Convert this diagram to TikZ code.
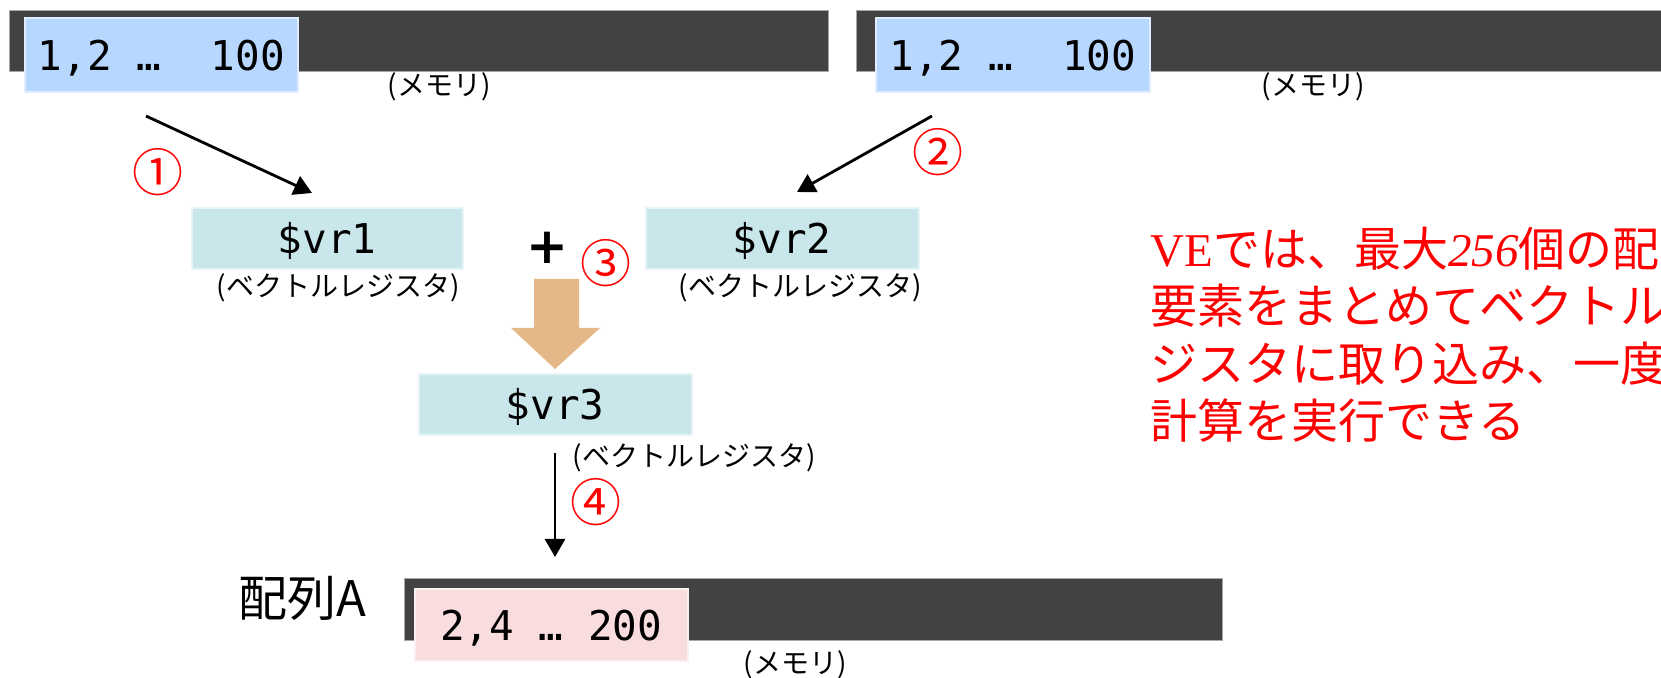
\documentclass[tikz,border=0pt]{standalone}
\usepackage{fontspec}
\setmainfont{Noto Sans CJK JP}
\setmonofont{DejaVu Sans Mono}
\newfontfamily\timesfont{Liberation Serif}
\newfontfamily\plusfont{DejaVu Sans}
\usepackage{tikz}
\usetikzlibrary{positioning, arrows.meta}

\definecolor{memgray}{HTML}{424242}
\definecolor{inblue}{HTML}{B8D7FF}
\definecolor{regteal}{HTML}{C9E6EA}
\definecolor{outpink}{HTML}{F9DCDD}
\definecolor{addtan}{HTML}{E4B888}

\tikzset{
  membar/.style={fill=memgray, draw=gray!70, line width=0.5pt, anchor=north west,
    inner sep=0pt, minimum height=30.5pt},
  databox/.style={fill=#1, draw=white!55!#1, line width=0.8pt, anchor=north west,
    inner sep=0pt, text depth=0pt, font=\ttfamily\fontsize{20.5}{24}\selectfont},
  regbox/.style={databox=regteal, minimum height=30.5pt},
  note/.style={inner sep=0pt, font=\fontsize{14}{16}\selectfont},
  numlabel/.style={inner sep=0pt, text=red, font=\fontsize{25.5}{28}\selectfont},
  redline/.style={inner sep=0pt, anchor=base west, text=red, font=\fontsize{23.5}{28}\selectfont},
  arr/.style={-{Triangle[length=9pt, width=10pt]}, line width=1.4pt}
}

\begin{document}
\begin{tikzpicture}[x=0.5pt, y=-0.5pt]
\useasboundingbox (0,0) rectangle (1661,678);
\clip (0,0) rectangle (1661,678);

% memory
\node[membar, minimum width=409.5pt] (M1) at (9,10) {};
\node[membar, minimum width=410pt] (M2) at (856,10) {};
\node[membar, minimum width=409pt, minimum height=31pt] (M3) at (404,578) {};
\node[databox=inblue, minimum width=136.5pt, minimum height=37pt] (D1) at (24,17) {1,2 …\ \ 100};
\node[databox=inblue, minimum width=137pt, minimum height=37pt] (D2) at (875,17) {1,2 …\ \ 100};
\node[databox=outpink, minimum width=136.5pt, minimum height=36pt] (D3) at (414,588) {2,4 … 200};
\node[note] (L1) at (439,87) {(メモリ)};
\node[note] (L2) at (1313,87) {(メモリ)};
\node[note] (L3) at (795,665) {(メモリ)};

% registers
\node[regbox, minimum width=135.5pt] (R1) at (191,207) {\$vr1};
\node[regbox, minimum width=136.5pt] (R2) at (645,207) {\$vr2};
\node[regbox, minimum width=136.5pt] (R3) at (418,373) {\$vr3};
\node[note] (V1) at (338,288) {(ベクトルレジスタ)};
\node[note] (V2) at (800,288) {(ベクトルレジスタ)};
\node[note] (V3) at (694,458) {(ベクトルレジスタ)};

\node[inner sep=0pt, font=\plusfont\bfseries\fontsize{25}{27}\selectfont] (P) at (547,248) {+};
\node[inner sep=0pt, font=\fontsize{24.5}{27}\selectfont] (A) at (302,598) {配列A};

% steps
\coordinate (S1) at (146,116);
\coordinate (E1) at (312,193);
\coordinate (S2) at (932,116);
\coordinate (E2) at (797,192);
\coordinate (S4) at (555,453);
\coordinate (E4) at (555,557);
\draw[arr] (S1) -- (E1);
\draw[arr] (S2) -- (E2);
\draw[arr] (S4) -- (E4);
\fill[addtan] (534,279) -- (579,279) -- (579,328) -- (600,328) -- (555,369)
  -- (511,328) -- (534,328) -- cycle;
\node[numlabel] (N1) at (158,172) {①};
\node[numlabel] (N2) at (938,152) {②};
\node[numlabel] (N3) at (606,263) {③};
\node[numlabel] (N4) at (596,502) {④};

% note
\node[redline] (T1) at (1150,267) {{\timesfont VE}では、最大{\timesfont\itshape 256}個の配};
\node[redline] (T2) at (1150,324) {要素をまとめてベクトル};
\node[redline] (T3) at (1150,381.5) {ジスタに取り込み、一度};
\node[redline] (T4) at (1150,439) {計算を実行できる};
\end{tikzpicture}
\end{document}
